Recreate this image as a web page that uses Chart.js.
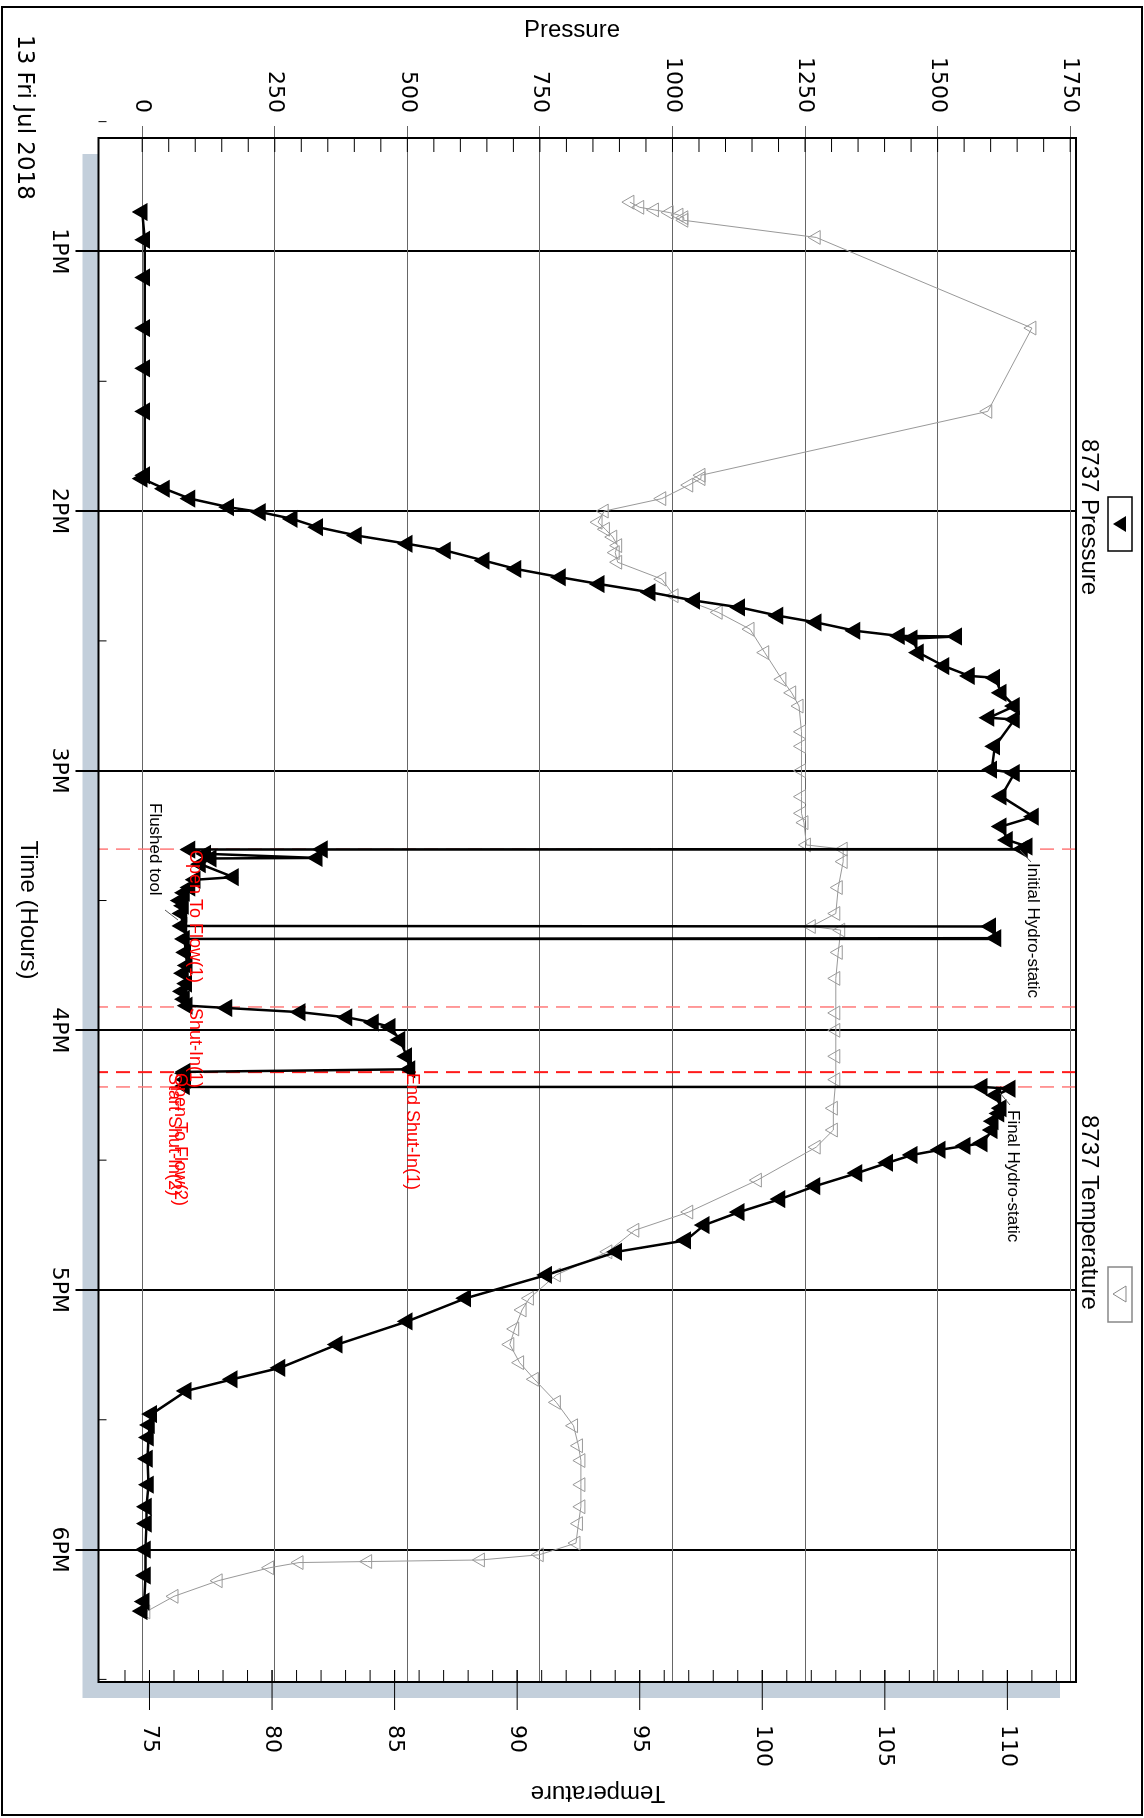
<!DOCTYPE html>
<html lang="en">
<head>
<meta charset="UTF-8">
<title>8737 Pressure / Temperature</title>
<script src="https://cdn.jsdelivr.net/npm/chart.js"></script>
<style>
  html, body { margin: 0; padding: 0; background: #fff; overflow: hidden; }
  #wrap { position: absolute; left: 0; top: 0; width: 1818px; height: 1144px;
          transform-origin: 0 0; transform: translate(1144px, 0) rotate(90deg); }
</style>
</head>
<body>
<div id="wrap"><canvas id="chart" width="1818" height="1144"></canvas></div>
<script>
// time in decimal hours of 13 Jul 2018
const pTime = [12.848, 12.955, 13.100, 13.295, 13.450, 13.616, 13.862, 13.875, 13.914, 13.952, 13.985, 14.004, 14.030, 14.062, 14.094, 14.126, 14.152, 14.191, 14.223, 14.255, 14.281, 14.313, 14.345, 14.371, 14.403, 14.429, 14.461, 14.481, 14.483, 14.491, 14.545, 14.597, 14.635, 14.642, 14.700, 14.751, 14.796, 14.803, 14.906, 14.996, 15.009, 15.099, 15.177, 15.215, 15.267, 15.292, 15.302, 15.303, 15.304, 15.320, 15.336, 15.338, 15.360, 15.410, 15.420, 15.450, 15.470, 15.500, 15.520, 15.550, 15.598, 15.600, 15.645, 15.648, 15.700, 15.750, 15.780, 15.820, 15.850, 15.880, 15.905, 15.914, 15.930, 15.950, 15.970, 15.987, 16.037, 16.100, 16.150, 16.160, 16.165, 16.190, 16.215, 16.218, 16.225, 16.250, 16.300, 16.320, 16.350, 16.384, 16.435, 16.445, 16.460, 16.480, 16.510, 16.550, 16.600, 16.650, 16.700, 16.750, 16.809, 16.853, 16.942, 17.032, 17.121, 17.210, 17.300, 17.344, 17.389, 17.478, 17.520, 17.568, 17.650, 17.750, 17.835, 17.900, 18.000, 18.100, 18.200, 18.237];
const pVal = [0, 5, 5, 5, 5, 5, 5, 0, 42, 90, 163, 223, 283, 331, 404, 500, 572, 645, 705, 789, 862, 958, 1042, 1127, 1199, 1271, 1344, 1428, 1536, 1452, 1464, 1512, 1560, 1608, 1620, 1645, 1597, 1645, 1608, 1602, 1645, 1620, 1681, 1620, 1632, 1669, 1660, 340, 90, 120, 330, 130, 110, 172, 100, 90, 80, 72, 78, 75, 75, 1600, 1610, 80, 82, 85, 78, 84, 76, 80, 85, 160, 298, 386, 436, 468, 486, 499, 505, 81, 80, 82, 80, 1584, 1637, 1610, 1620, 1616, 1605, 1603, 1584, 1552, 1505, 1452, 1406, 1348, 1269, 1203, 1126, 1060, 1025, 895, 763, 610, 500, 368, 260, 170, 83, 18, 14, 12, 10, 12, 8, 8, 6, 6, 4, 0];

const tTime = [12.810, 12.830, 12.840, 12.850, 12.860, 12.870, 12.880, 12.946, 13.295, 13.616, 13.862, 13.875, 13.900, 13.952, 14.000, 14.043, 14.070, 14.100, 14.133, 14.160, 14.197, 14.262, 14.326, 14.390, 14.455, 14.545, 14.648, 14.700, 14.751, 14.850, 14.906, 15.000, 15.100, 15.164, 15.200, 15.286, 15.302, 15.350, 15.450, 15.550, 15.600, 15.614, 15.700, 15.800, 15.933, 16.000, 16.100, 16.190, 16.300, 16.384, 16.450, 16.577, 16.700, 16.770, 16.853, 16.942, 17.032, 17.077, 17.150, 17.210, 17.280, 17.344, 17.433, 17.523, 17.600, 17.657, 17.750, 17.835, 17.900, 17.975, 18.020, 18.040, 18.046, 18.050, 18.070, 18.120, 18.180, 18.240];
const tVal = [94.6, 95.0, 95.6, 96.2, 96.6, 96.8, 96.8, 102.2, 111.0, 109.2, 97.5, 97.5, 97.0, 95.9, 93.55, 93.3, 93.6, 93.9, 94.1, 94.0, 94.1, 95.9, 96.4, 98.2, 99.5, 100.1, 100.8, 101.2, 101.5, 101.6, 101.6, 101.6, 101.6, 101.6, 101.7, 101.8, 103.3, 103.3, 103.1, 103.0, 102.0, 103.2, 103.1, 103.0, 103.0, 103.0, 103.0, 103.0, 102.9, 102.9, 102.2, 99.8, 97.0, 94.8, 93.7, 91.6, 90.5, 90.2, 89.9, 89.7, 90.1, 90.7, 91.6, 92.3, 92.5, 92.6, 92.6, 92.6, 92.5, 92.4, 90.9, 88.5, 83.9, 81.1, 79.9, 77.8, 76.0, 74.85];

const hourTicks = [13, 14, 15, 16, 17, 18];
const pressureTicks = [0, 250, 500, 750, 1000, 1250, 1500, 1750];
const tempTicks = [75, 80, 85, 90, 95, 100, 105, 110];

const eventTimes = [15.302, 15.910, 16.161, 16.218];
const eventColors = ['#ff7a7a', '#ff7a7a', '#ff1a1a', '#ff7a7a'];

function txt(ctx, s, x, y, font, color, align, rot) {
    ctx.save();
    ctx.translate(x, y);
    if (rot) ctx.rotate(rot);
    ctx.font = font;
    ctx.fillStyle = color;
    ctx.textAlign = align || 'left';
    ctx.textBaseline = 'middle';
    ctx.fillText(s, 0, 0);
    ctx.restore();
}

function line(ctx, x1, y1, x2, y2, color, w) {
    ctx.beginPath();
    ctx.moveTo(x1, y1);
    ctx.lineTo(x2, y2);
    ctx.strokeStyle = color;
    ctx.lineWidth = w;
    ctx.stroke();
}

const decor = {
    id: 'decor',
    beforeDraw(chart) {
        const ctx = chart.ctx, a = chart.chartArea;
        ctx.save();
        ctx.fillStyle = '#fff';
        ctx.fillRect(0, 0, chart.width, chart.height);
        ctx.fillStyle = '#c3cfdb';
        ctx.fillRect(a.left + 16, a.top + 16, a.right - a.left, a.bottom - a.top);
        ctx.fillStyle = '#fff';
        ctx.fillRect(a.left, a.top, a.right - a.left, a.bottom - a.top);
        ctx.restore();
    },
    beforeDatasetsDraw(chart) {
        const ctx = chart.ctx, a = chart.chartArea, x = chart.scales.x;
        ctx.save();
        ctx.setLineDash([14, 8]);
        eventTimes.forEach((t, i) => {
            const px = x.getPixelForValue(t);
            line(ctx, px, a.top, px, a.bottom, eventColors[i], i === 2 ? 2 : 1.5);
        });
        ctx.restore();
    },
    afterDraw(chart) {
        const ctx = chart.ctx, a = chart.chartArea;
        const x = chart.scales.x, y = chart.scales.y, y1 = chart.scales.y1;
        ctx.save();
        // minor ticks
        for (let p = 0; p <= 1750; p += 50) {
            const py = y.getPixelForValue(p);
            line(ctx, a.left, py, a.left + 14, py, '#000', 1);
        }
        for (let t = 74; t <= 112; t++) {
            const py = y1.getPixelForValue(t);
            line(ctx, a.right - 12, py, a.right, py, '#000', 1);
        }
        tempTicks.forEach(t => {
            const py = y1.getPixelForValue(t);
            line(ctx, a.right - 12, py, a.right + 28, py, '#000', 1);
        });
        for (let h = 12.5; h <= 18.5; h += 1) {
            const px = x.getPixelForValue(h);
            line(ctx, px, a.bottom, px, a.bottom - 8, '#000', 1);
        }
        // frame
        ctx.lineWidth = 2;
        ctx.strokeStyle = '#000';
        ctx.strokeRect(a.left, a.top, a.right - a.left, a.bottom - a.top);
        ctx.strokeRect(7, 2, 1808, 1140);

        // titles
        const tf = '24px "Liberation Sans", Arial, sans-serif';
        txt(ctx, 'Pressure', 30, 572, tf, '#000', 'center', -Math.PI / 2);
        txt(ctx, 'Temperature', 1793, 546, tf, '#000', 'center', Math.PI / 2);
        txt(ctx, 'Time (Hours)', 910, 1116, tf, '#000', 'center');
        txt(ctx, '13 Fri Jul 2018', 35, 1120, '23px "DejaVu Sans", sans-serif', '#000', 'left');

        // legend
        txt(ctx, '8737 Pressure', 439, 55, tf, '#000', 'left');
        ctx.lineWidth = 1.5;
        ctx.strokeStyle = '#000';
        ctx.strokeRect(497, 12, 54, 24);
        ctx.beginPath();
        ctx.moveTo(516, 18); ctx.lineTo(532, 18); ctx.lineTo(524, 31); ctx.closePath();
        ctx.fillStyle = '#000'; ctx.fill();
        txt(ctx, '8737 Temperature', 1115, 55, tf, '#000', 'left');
        ctx.strokeStyle = '#888';
        ctx.strokeRect(1267, 12, 55, 24);
        ctx.beginPath();
        ctx.moveTo(1286, 18); ctx.lineTo(1302, 18); ctx.lineTo(1294, 31); ctx.closePath();
        ctx.lineWidth = 1; ctx.stroke();

        // annotations
        const af = '17px "Liberation Sans", Arial, sans-serif';
        const rf = '18px "Liberation Sans", Arial, sans-serif';
        txt(ctx, 'Open To Flow(1)', 850, 949, rf, '#ff0000', 'left');
        txt(ctx, 'Shut-In(1)', 1008, 949, rf, '#ff0000', 'left');
        txt(ctx, 'Open To Flow(2)', 1073, 964, rf, '#ff0000', 'left');
        txt(ctx, 'Start Shut-In(2)', 1073, 970, rf, '#ff0000', 'left');
        txt(ctx, 'End Shut-In(1)', 1073, 732, rf, '#ff0000', 'left');
        txt(ctx, 'Flushed tool', 803, 989, af, '#000', 'left');
        line(ctx, 910, 979, 920, 966, '#555', 1);
        txt(ctx, 'Initial Hydro-static', 863, 111, af, '#000', 'left');
        line(ctx, 850, 124, 862, 113, '#555', 1);
        txt(ctx, 'Final Hydro-static', 1110, 131, af, '#000', 'left');
        line(ctx, 1093, 144, 1105, 134, '#555', 1);
        ctx.restore();
    }
};

const tickFont = { family: '"DejaVu Sans", sans-serif', size: 22 };

new Chart(document.getElementById('chart'), {
    type: 'line',
    data: {
        datasets: [{
            label: '8737 Pressure',
            data: pTime.map((t, i) => ({ x: t, y: pVal[i] })),
            yAxisID: 'y',
            borderColor: '#000',
            borderWidth: 2.5,
            pointStyle: 'triangle',
            pointRotation: 180,
            pointRadius: 8,
            pointBackgroundColor: '#000',
            pointBorderColor: '#000',
            tension: 0
        }, {
            label: '8737 Temperature',
            data: tTime.map((t, i) => ({ x: t, y: tVal[i] })),
            yAxisID: 'y1',
            borderColor: '#999',
            borderWidth: 1,
            pointStyle: 'triangle',
            pointRotation: 180,
            pointRadius: 8,
            pointBackgroundColor: 'rgba(255,255,255,0)',
            pointBorderColor: '#999',
            pointBorderWidth: 1,
            tension: 0
        }]
    },
    options: {
        responsive: false,
        animation: false,
        events: [],
        layout: { padding: { top: 68 } },
        plugins: { legend: { display: false }, tooltip: { enabled: false } },
        scales: {
            x: {
                type: 'linear', position: 'bottom', min: 12.563, max: 18.51,
                afterBuildTicks: s => { s.ticks = hourTicks.map(v => ({ value: v })); },
                afterFit: s => { s.height = 98.5; },
                grid: { color: '#000', lineWidth: 2, tickLength: 23 },
                border: { display: false },
                ticks: { font: tickFont, color: '#000', padding: 4, maxRotation: 0,
                         callback: v => (v - 12) + 'PM' }
            },
            y: {
                type: 'linear', position: 'left', min: -82.4, max: 1761,
                afterBuildTicks: s => { s.ticks = pressureTicks.map(v => ({ value: v })); },
                afterFit: s => { s.width = 138; },
                grid: { color: '#666', lineWidth: 1, tickLength: 12 },
                border: { display: false },
                ticks: { font: tickFont, color: '#000', padding: 13, callback: v => String(v) }
            },
            y1: {
                type: 'linear', position: 'right', min: 72.92, max: 112.8,
                afterBuildTicks: s => { s.ticks = tempTicks.map(v => ({ value: v })); },
                afterFit: s => { s.width = 136; },
                grid: { drawOnChartArea: false, drawTicks: false },
                border: { display: false },
                ticks: { font: tickFont, color: '#000', padding: 43, callback: v => String(v) }
            }
        }
    },
    plugins: [decor]
});
</script>
</body>
</html>
